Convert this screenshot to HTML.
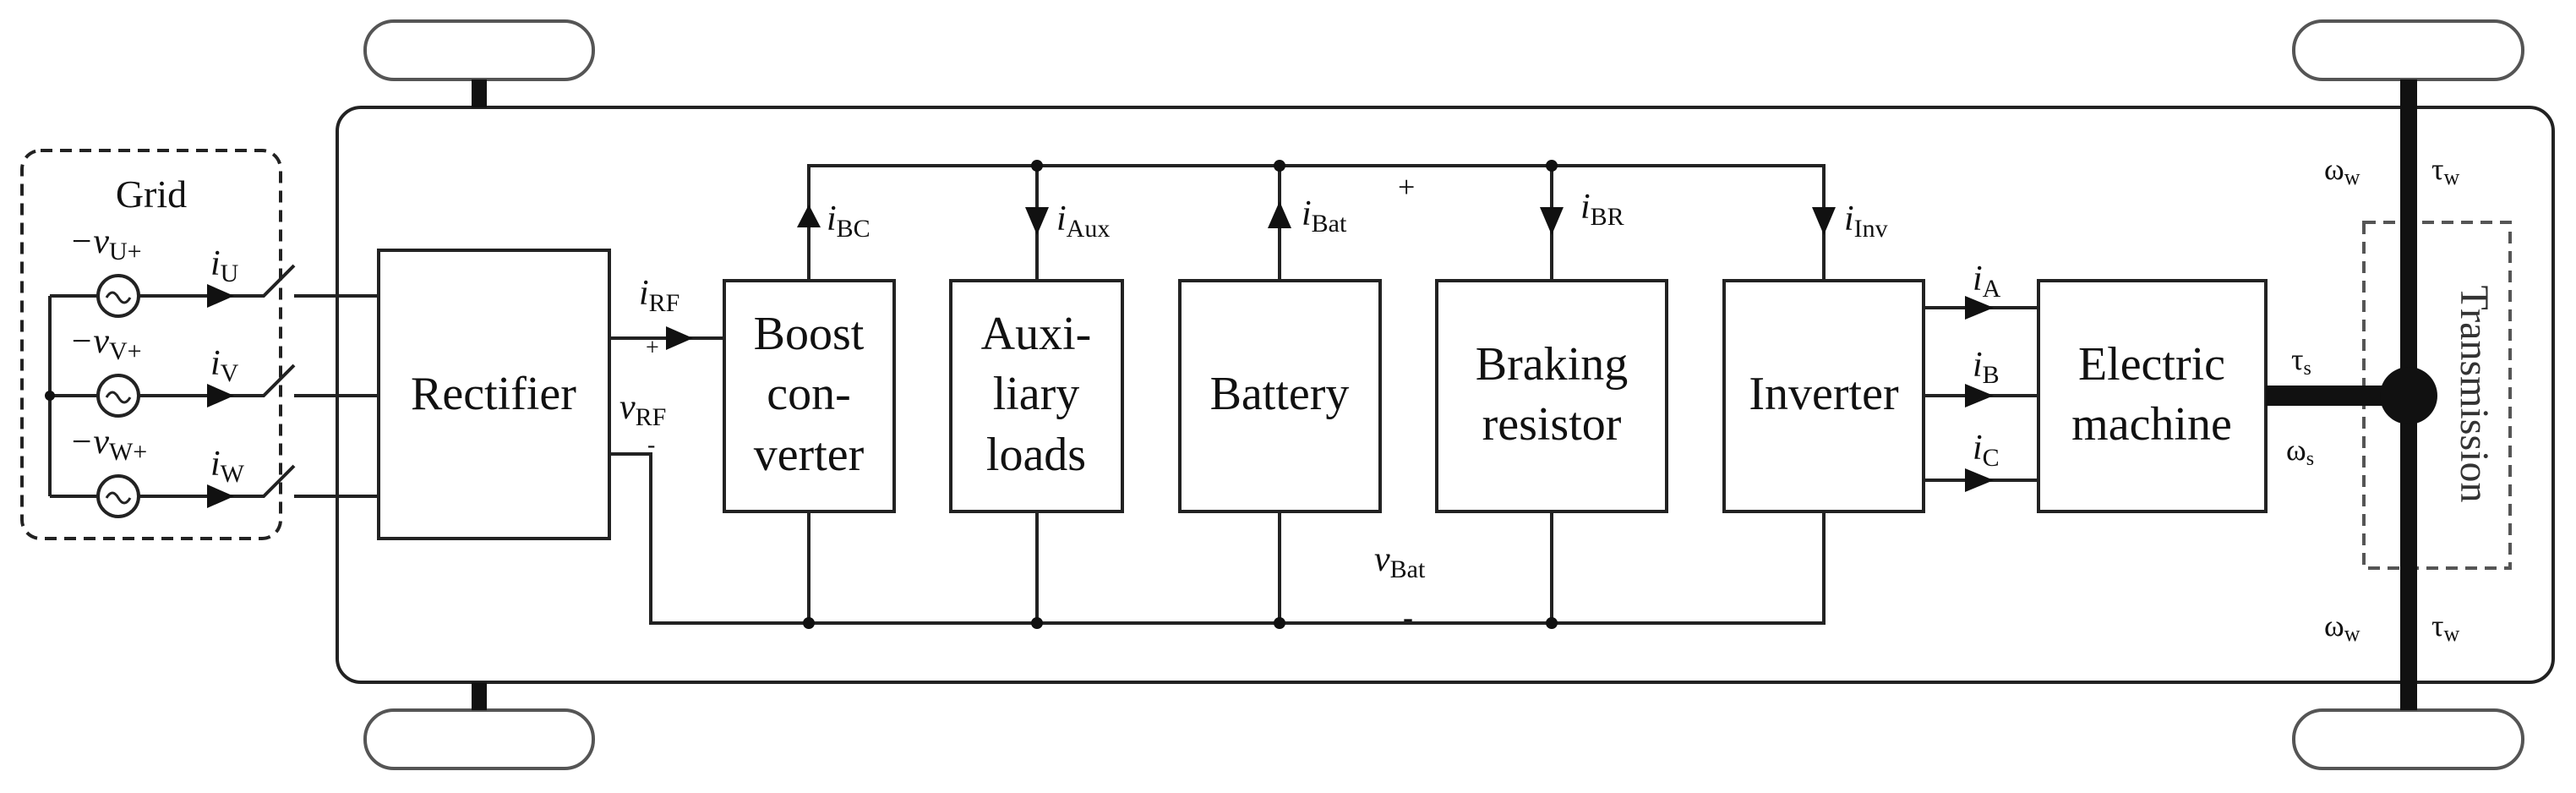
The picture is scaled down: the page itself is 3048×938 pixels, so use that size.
<!DOCTYPE html>
<html><head><meta charset="utf-8"><style>
html,body{margin:0;padding:0;background:#fff;}
svg{display:block;font-family:"Liberation Serif",serif;}
.b{font-size:56px;text-anchor:middle;}
.l{font-size:42px;font-style:italic;}
.s{font-size:30px;font-style:normal;}
</style></head><body>
<svg width="3048" height="938" viewBox="0 0 3048 938" xmlns="http://www.w3.org/2000/svg">
<g fill="none" stroke="#222" stroke-width="4">
<!-- wheels -->
<rect x="432" y="25" width="270" height="69" rx="34" stroke="#555"/>
<rect x="432" y="840" width="270" height="69" rx="34" stroke="#555"/>
<rect x="2714" y="25" width="271" height="69" rx="34" stroke="#555"/>
<rect x="2714" y="840" width="271" height="69" rx="34" stroke="#555"/>
<!-- chassis -->
<rect x="399" y="127" width="2622" height="680" rx="28"/>
<!-- grid box -->
<rect x="26" y="178" width="306" height="459" rx="22" stroke-dasharray="14,9"/>
<!-- transmission box -->
<rect x="2797" y="263" width="173" height="409" stroke="#555" stroke-dasharray="14,9"/>
<!-- grid wiring -->
<path d="M59 350V587M59 350H116M164 350H312L348 314M348 350H448M59 468H116M164 468H312L348 432M348 468H448M59 587H116M164 587H312L348 551M348 587H448"/>
<circle cx="140" cy="350" r="24"/><circle cx="140" cy="468" r="24"/><circle cx="140" cy="587" r="24"/>
<path d="M126 352q7-12 14 0t14 0M126 470q7-12 14 0t14 0M126 589q7-12 14 0t14 0" stroke-width="3"/>
<!-- boxes -->
<rect x="448" y="296" width="273" height="341"/>
<rect x="857" y="332" width="201" height="273"/>
<rect x="1125" y="332" width="203" height="273"/>
<rect x="1396" y="332" width="237" height="273"/>
<rect x="1700" y="332" width="272" height="273"/>
<rect x="2040" y="332" width="236" height="273"/>
<rect x="2412" y="332" width="269" height="273"/>
<!-- DC wiring -->
<path d="M721 400H857M721 537H770V737H2158V605M957 332V196H2158V332M1227 196V332M1514 196V332M1836 196V332M957 605V737M1227 605V737M1514 605V737M1836 605V737"/>
<path d="M2276 364H2412M2276 468H2412M2276 568H2412"/>
</g>
<g fill="#111">
<!-- stubs & axle -->
<rect x="558" y="94" width="18" height="33"/><rect x="558" y="807" width="18" height="33"/>
<rect x="2840" y="94" width="20" height="746"/>
<rect x="2681" y="456" width="170" height="24"/>
<circle cx="2850" cy="468" r="34"/>
<circle cx="59" cy="468" r="6"/>
<circle cx="1227" cy="196" r="7"/><circle cx="1514" cy="196" r="7"/><circle cx="1836" cy="196" r="7"/>
<circle cx="957" cy="737" r="7"/><circle cx="1227" cy="737" r="7"/><circle cx="1514" cy="737" r="7"/><circle cx="1836" cy="737" r="7"/>
<!-- arrows -->
<path d="M245 336L277 350L245 364Z"/><path d="M245 454L277 468L245 482Z"/><path d="M245 573L277 587L245 601Z"/>
<path d="M788 386L820 400L788 414Z"/>
<path d="M943 269L957 242L971 269Z"/>
<path d="M1213 245L1227 278L1241 245Z"/>
<path d="M1500 270L1514 238L1528 270Z"/>
<path d="M1822 245L1836 278L1850 245Z"/>
<path d="M2144 245L2158 278L2172 245Z"/>
<path d="M2325 350L2359 364L2325 378Z"/><path d="M2325 454L2359 468L2325 482Z"/><path d="M2325 554L2359 568L2325 582Z"/>
</g>
<g fill="#111">
<text x="179" y="245" font-size="46" text-anchor="middle">Grid</text>
<text x="82" y="299" class="l">−v<tspan class="s" dy="8">U+</tspan></text>
<text x="82" y="417" class="l">−v<tspan class="s" dy="8">V+</tspan></text>
<text x="82" y="536" class="l">−v<tspan class="s" dy="8">W+</tspan></text>
<text x="249" y="325" class="l">i<tspan class="s" dy="8">U</tspan></text>
<text x="249" y="443" class="l">i<tspan class="s" dy="8">V</tspan></text>
<text x="249" y="562" class="l">i<tspan class="s" dy="8">W</tspan></text>
<text x="756" y="360" class="l">i<tspan class="s" dy="8">RF</tspan></text>
<text x="764" y="420" font-size="28">+</text>
<text x="733" y="495" class="l">v<tspan class="s" dy="8">RF</tspan></text>
<text x="766" y="535" font-size="28">-</text>
<text x="978" y="272" class="l">i<tspan class="s" dy="8">BC</tspan></text>
<text x="1250" y="272" class="l">i<tspan class="s" dy="8">Aux</tspan></text>
<text x="1540" y="266" class="l">i<tspan class="s" dy="8">Bat</tspan></text>
<text x="1654" y="233" font-size="36">+</text>
<text x="1870" y="258" class="l">i<tspan class="s" dy="8">BR</tspan></text>
<text x="2182" y="272" class="l">i<tspan class="s" dy="8">Inv</tspan></text>
<text x="1626" y="675" class="l">v<tspan class="s" dy="8">Bat</tspan></text>
<text x="1660" y="742" font-size="36">-</text>
<text x="2334" y="343" class="l">i<tspan class="s" dy="8">A</tspan></text>
<text x="2334" y="445" class="l">i<tspan class="s" dy="8">B</tspan></text>
<text x="2334" y="543" class="l">i<tspan class="s" dy="8">C</tspan></text>
<text x="584" y="484" class="b">Rectifier</text>
<text x="957" y="413" class="b">Boost</text><text x="957" y="484" class="b">con-</text><text x="957" y="556" class="b">verter</text>
<text x="1226" y="413" class="b">Auxi-</text><text x="1226" y="484" class="b">liary</text><text x="1226" y="556" class="b">loads</text>
<text x="1514" y="484" class="b">Battery</text>
<text x="1836" y="449" class="b">Braking</text><text x="1836" y="520" class="b">resistor</text>
<text x="2158" y="484" class="b">Inverter</text>
<text x="2546" y="449" class="b">Electric</text><text x="2546" y="520" class="b">machine</text>
<text x="2750" y="212" font-size="36">ω<tspan font-size="26" dy="6">w</tspan></text>
<text x="2877" y="212" font-size="36">τ<tspan font-size="26" dy="6">w</tspan></text>
<text x="2750" y="752" font-size="36">ω<tspan font-size="26" dy="6">w</tspan></text>
<text x="2877" y="752" font-size="36">τ<tspan font-size="26" dy="6">w</tspan></text>
<text x="2711" y="437" font-size="36">τ<tspan font-size="24" dy="6">s</tspan></text>
<text x="2705" y="544" font-size="36">ω<tspan font-size="24" dy="6">s</tspan></text>
<text x="2912" y="466" font-size="48" fill="#333" text-anchor="middle" transform="rotate(90 2912 466)">Transmission</text>
</g>
</svg>
</body></html>
